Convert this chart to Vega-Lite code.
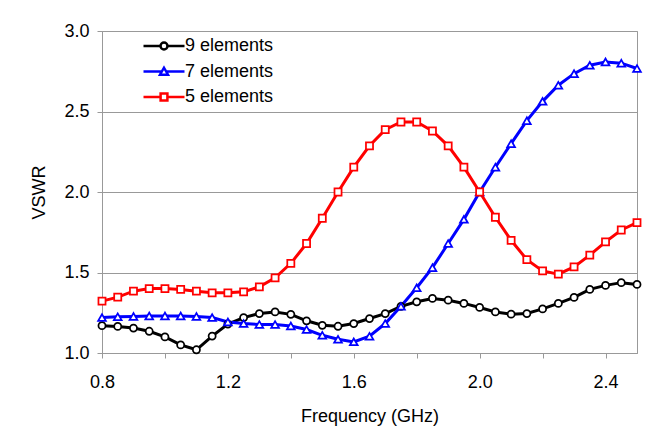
{
  "$schema": "https://vega.github.io/schema/vega-lite/v6.json",
  "autosize": "none",
  "width": 535,
  "height": 322,
  "padding": {"left": 102, "top": 31, "right": 29, "bottom": 94},
  "background": "white",
  "config": {
    "font": "Liberation Sans",
    "view": {"stroke": "#999999", "strokeWidth": 1},
    "axis": {
      "labelFont": "Liberation Sans",
      "titleFont": "Liberation Sans",
      "labelFontSize": 18,
      "titleFontSize": 18,
      "titleFontWeight": "normal",
      "labelColor": "black",
      "titleColor": "black",
      "domainColor": "#999999",
      "tickColor": "#999999",
      "tickSize": 5,
      "gridColor": "#999999",
      "gridOpacity": 1
    },
    "legend": {
      "labelFont": "Liberation Sans",
      "labelFontSize": 18,
      "labelColor": "black"
    }
  },
  "data": {
    "values": [
      {"f": 0.80, "series": "9 elements", "vswr": 1.170},
      {"f": 0.85, "series": "9 elements", "vswr": 1.165},
      {"f": 0.90, "series": "9 elements", "vswr": 1.155},
      {"f": 0.95, "series": "9 elements", "vswr": 1.135},
      {"f": 1.00, "series": "9 elements", "vswr": 1.100},
      {"f": 1.05, "series": "9 elements", "vswr": 1.050},
      {"f": 1.10, "series": "9 elements", "vswr": 1.020},
      {"f": 1.15, "series": "9 elements", "vswr": 1.105},
      {"f": 1.20, "series": "9 elements", "vswr": 1.180},
      {"f": 1.25, "series": "9 elements", "vswr": 1.220},
      {"f": 1.30, "series": "9 elements", "vswr": 1.245},
      {"f": 1.35, "series": "9 elements", "vswr": 1.255},
      {"f": 1.40, "series": "9 elements", "vswr": 1.240},
      {"f": 1.45, "series": "9 elements", "vswr": 1.200},
      {"f": 1.50, "series": "9 elements", "vswr": 1.172},
      {"f": 1.55, "series": "9 elements", "vswr": 1.166},
      {"f": 1.60, "series": "9 elements", "vswr": 1.183},
      {"f": 1.65, "series": "9 elements", "vswr": 1.214},
      {"f": 1.70, "series": "9 elements", "vswr": 1.245},
      {"f": 1.75, "series": "9 elements", "vswr": 1.290},
      {"f": 1.80, "series": "9 elements", "vswr": 1.318},
      {"f": 1.85, "series": "9 elements", "vswr": 1.339},
      {"f": 1.90, "series": "9 elements", "vswr": 1.328},
      {"f": 1.95, "series": "9 elements", "vswr": 1.308},
      {"f": 2.00, "series": "9 elements", "vswr": 1.283},
      {"f": 2.05, "series": "9 elements", "vswr": 1.255},
      {"f": 2.10, "series": "9 elements", "vswr": 1.241},
      {"f": 2.15, "series": "9 elements", "vswr": 1.245},
      {"f": 2.20, "series": "9 elements", "vswr": 1.274},
      {"f": 2.25, "series": "9 elements", "vswr": 1.308},
      {"f": 2.30, "series": "9 elements", "vswr": 1.345},
      {"f": 2.35, "series": "9 elements", "vswr": 1.395},
      {"f": 2.40, "series": "9 elements", "vswr": 1.420},
      {"f": 2.45, "series": "9 elements", "vswr": 1.437},
      {"f": 2.50, "series": "9 elements", "vswr": 1.426},

      {"f": 0.80, "series": "7 elements", "vswr": 1.220},
      {"f": 0.85, "series": "7 elements", "vswr": 1.225},
      {"f": 0.90, "series": "7 elements", "vswr": 1.227},
      {"f": 0.95, "series": "7 elements", "vswr": 1.230},
      {"f": 1.00, "series": "7 elements", "vswr": 1.230},
      {"f": 1.05, "series": "7 elements", "vswr": 1.230},
      {"f": 1.10, "series": "7 elements", "vswr": 1.227},
      {"f": 1.15, "series": "7 elements", "vswr": 1.220},
      {"f": 1.20, "series": "7 elements", "vswr": 1.193},
      {"f": 1.25, "series": "7 elements", "vswr": 1.183},
      {"f": 1.30, "series": "7 elements", "vswr": 1.177},
      {"f": 1.35, "series": "7 elements", "vswr": 1.177},
      {"f": 1.40, "series": "7 elements", "vswr": 1.168},
      {"f": 1.45, "series": "7 elements", "vswr": 1.146},
      {"f": 1.50, "series": "7 elements", "vswr": 1.110},
      {"f": 1.55, "series": "7 elements", "vswr": 1.085},
      {"f": 1.60, "series": "7 elements", "vswr": 1.069},
      {"f": 1.65, "series": "7 elements", "vswr": 1.104},
      {"f": 1.70, "series": "7 elements", "vswr": 1.183},
      {"f": 1.75, "series": "7 elements", "vswr": 1.290},
      {"f": 1.80, "series": "7 elements", "vswr": 1.405},
      {"f": 1.85, "series": "7 elements", "vswr": 1.530},
      {"f": 1.90, "series": "7 elements", "vswr": 1.680},
      {"f": 1.95, "series": "7 elements", "vswr": 1.830},
      {"f": 2.00, "series": "7 elements", "vswr": 2.000},
      {"f": 2.05, "series": "7 elements", "vswr": 2.154},
      {"f": 2.10, "series": "7 elements", "vswr": 2.300},
      {"f": 2.15, "series": "7 elements", "vswr": 2.443},
      {"f": 2.20, "series": "7 elements", "vswr": 2.563},
      {"f": 2.25, "series": "7 elements", "vswr": 2.663},
      {"f": 2.30, "series": "7 elements", "vswr": 2.735},
      {"f": 2.35, "series": "7 elements", "vswr": 2.787},
      {"f": 2.40, "series": "7 elements", "vswr": 2.808},
      {"f": 2.45, "series": "7 elements", "vswr": 2.800},
      {"f": 2.50, "series": "7 elements", "vswr": 2.767},

      {"f": 0.80, "series": "5 elements", "vswr": 1.322},
      {"f": 0.85, "series": "5 elements", "vswr": 1.347},
      {"f": 0.90, "series": "5 elements", "vswr": 1.384},
      {"f": 0.95, "series": "5 elements", "vswr": 1.400},
      {"f": 1.00, "series": "5 elements", "vswr": 1.400},
      {"f": 1.05, "series": "5 elements", "vswr": 1.395},
      {"f": 1.10, "series": "5 elements", "vswr": 1.384},
      {"f": 1.15, "series": "5 elements", "vswr": 1.374},
      {"f": 1.20, "series": "5 elements", "vswr": 1.374},
      {"f": 1.25, "series": "5 elements", "vswr": 1.380},
      {"f": 1.30, "series": "5 elements", "vswr": 1.411},
      {"f": 1.35, "series": "5 elements", "vswr": 1.467},
      {"f": 1.40, "series": "5 elements", "vswr": 1.557},
      {"f": 1.45, "series": "5 elements", "vswr": 1.680},
      {"f": 1.50, "series": "5 elements", "vswr": 1.837},
      {"f": 1.55, "series": "5 elements", "vswr": 2.000},
      {"f": 1.60, "series": "5 elements", "vswr": 2.154},
      {"f": 1.65, "series": "5 elements", "vswr": 2.287},
      {"f": 1.70, "series": "5 elements", "vswr": 2.387},
      {"f": 1.75, "series": "5 elements", "vswr": 2.435},
      {"f": 1.80, "series": "5 elements", "vswr": 2.435},
      {"f": 1.85, "series": "5 elements", "vswr": 2.379},
      {"f": 1.90, "series": "5 elements", "vswr": 2.287},
      {"f": 1.95, "series": "5 elements", "vswr": 2.154},
      {"f": 2.00, "series": "5 elements", "vswr": 2.000},
      {"f": 2.05, "series": "5 elements", "vswr": 1.843},
      {"f": 2.10, "series": "5 elements", "vswr": 1.700},
      {"f": 2.15, "series": "5 elements", "vswr": 1.580},
      {"f": 2.20, "series": "5 elements", "vswr": 1.510},
      {"f": 2.25, "series": "5 elements", "vswr": 1.490},
      {"f": 2.30, "series": "5 elements", "vswr": 1.535},
      {"f": 2.35, "series": "5 elements", "vswr": 1.608},
      {"f": 2.40, "series": "5 elements", "vswr": 1.690},
      {"f": 2.45, "series": "5 elements", "vswr": 1.764},
      {"f": 2.50, "series": "5 elements", "vswr": 1.810}
    ]
  },
  "encoding": {
    "x": {
      "field": "f",
      "type": "quantitative",
      "scale": {"domain": [0.8, 2.5], "nice": false, "zero": false},
      "axis": {
        "title": "Frequency (GHz)",
        "values": [0.8, 1.0, 1.2, 1.4, 1.6, 1.8, 2.0, 2.2, 2.4],
        "labelExpr": "round(datum.value * 10) % 4 == 0 ? format(datum.value, '.1f') : ''",
        "grid": false,
        "labelPadding": 15,
        "titlePadding": 16,
        "labelFlush": false
      }
    },
    "y": {
      "field": "vswr",
      "type": "quantitative",
      "scale": {"domain": [1.0, 3.0], "nice": false, "zero": false},
      "axis": {
        "title": "VSWR",
        "values": [1.0, 1.5, 2.0, 2.5, 3.0],
        "format": ".1f",
        "grid": true,
        "labelPadding": 8,
        "titlePadding": 15,
        "labelFlush": false
      }
    },
    "color": {
      "field": "series",
      "type": "nominal",
      "scale": {
        "domain": ["9 elements", "7 elements", "5 elements"],
        "range": ["#000000", "#0000ff", "#ff0000"]
      },
      "legend": {
        "title": null,
        "orient": "none",
        "legendX": 53,
        "legendY": 6,
        "padding": 0,
        "symbolSize": 100,
        "symbolStrokeWidth": 2.5,
        "labelOffset": 12,
        "rowPadding": 7.5,
        "labelBaseline": "middle",
        "encode": {
          "symbols": {
            "update": {
              "shape": {
                "signal": "datum.value === '9 elements' ? 'M-4.1,0H-0.7M0.7,0H4.1M0.7,0A0.7,0.7,0,1,1,-0.7,0A0.7,0.7,0,1,1,0.7,0Z' : datum.value === '7 elements' ? 'M-4.1,0H-0.45M0.45,0H4.1M0,-0.75L0.8,0.65L-0.8,0.65Z' : 'M-4.1,0H-0.68M0.68,0H4.1M-0.68,-0.68H0.68V0.68H-0.68Z'"
              },
              "fill": {"value": "white"},
              "fillOpacity": {"value": 1},
              "strokeWidth": {"value": 2.5}
            }
          }
        }
      }
    }
  },
  "layer": [
    {
      "mark": {"type": "line", "strokeWidth": 3},
      "encoding": {
        "detail": {"field": "series"}
      }
    },
    {
      "transform": [{"filter": "datum.series === '9 elements'"}],
      "mark": {"type": "point", "shape": "circle", "filled": false, "fill": "white", "fillOpacity": 1, "strokeWidth": 1.75, "opacity": 1, "size": 50}
    },
    {
      "transform": [{"filter": "datum.series === '7 elements'"}],
      "mark": {"type": "point", "shape": "triangle-up", "filled": false, "fill": "white", "fillOpacity": 1, "strokeWidth": 1.75, "opacity": 1, "size": 60}
    },
    {
      "transform": [{"filter": "datum.series === '5 elements'"}],
      "mark": {"type": "point", "shape": "square", "filled": false, "fill": "white", "fillOpacity": 1, "strokeWidth": 1.75, "opacity": 1, "size": 50}
    }
  ]
}
